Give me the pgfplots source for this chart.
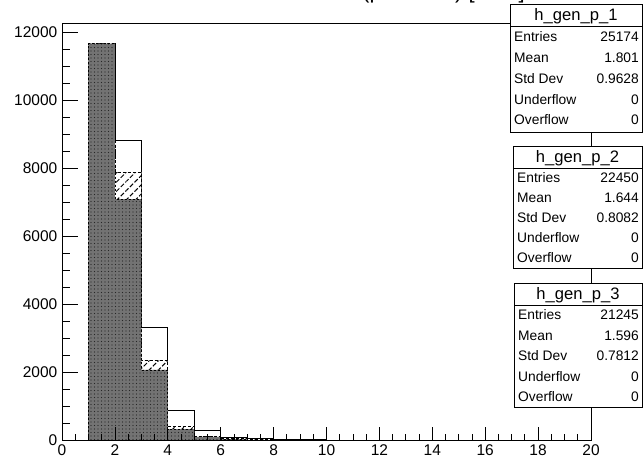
\documentclass[border=0pt]{standalone}
\usepackage{pgfplots}
\pgfplotsset{compat=1.18}
\usepackage{fontspec}
\setmainfont{Liberation Sans}
\usetikzlibrary{patterns.meta}

\newcommand{\hfont}{\fontsize{16.6bp}{19bp}\selectfont}
\newcommand{\sfont}{\fontsize{13.8bp}{16bp}\selectfont}

\begin{document}
\begin{tikzpicture}[x=1bp,y=1bp]
\path[use as bounding box] (0,0) rectangle (643,464);
\begin{axis}[
  at={(62bp,24bp)}, anchor=south west,
  scale only axis, width=529bp, height=417bp,
  xmin=0, xmax=20, ymin=0, ymax=12265,
  axis on top,
  xtick={0,2,...,20}, minor x tick num=3,
  ytick={0,2000,...,12000}, minor y tick num=3,
  tick align=inside, xtick pos=bottom, ytick pos=left,
  xtick style={/pgfplots/major tick length=12.5bp,/pgfplots/minor tick length=6.3bp},
  ytick style={/pgfplots/major tick length=16bp,/pgfplots/minor tick length=8bp},
  every tick/.style={black, line width=0.8bp},
  axis line style={line width=0.8bp},
  /pgf/number format/assume math mode=true,
  /pgf/number format/1000 sep={},
  scaled y ticks=false,
  ticklabel style={font=\fontsize{15.5bp}{18bp}\selectfont},
  xticklabel style={inner sep=4.5bp},
  yticklabel style={inner sep=4.5bp},
]
% h_gen_p_1
\addplot[const plot, fill=white, draw=black, line width=0.8bp]
  coordinates {(1,0) (1,11670) (2,8820) (3,3320) (4,880) (5,295) (6,88) (7,40) (8,20) (9,11) (10,0)};
% h_gen_p_2
\addplot[const plot, fill=white, draw=black, line width=0.8bp, dash pattern=on 3bp off 2bp,
  postaction={pattern={Lines[angle=45,distance=6.5bp,line width=1bp]}}]
  coordinates {(1,0) (1,11670) (2,7880) (3,2343) (4,392) (5,118) (6,40) (7,10) (8,0)};
% h_gen_p_3
\addplot[const plot, fill=black!55, draw=black, line width=0.8bp, dash pattern=on 2bp off 2bp,
  postaction={pattern={Dots[distance=3.5bp,radius=0.7bp]}, pattern color=black!85}]
  coordinates {(1,0) (1,11660) (2,7088) (3,2059) (4,320) (5,95) (6,25) (7,0)};
\end{axis}

% title (mostly outside the page, as in the reference)
\node[anchor=base west, inner sep=0, font=\fontsize{22bp}{26bp}\selectfont] at (362,465.5) {(p in GeV) [GeV]};

% stats box 1
\draw[line width=0.8bp, fill=white] (510,460) rectangle (642,332);
\draw[line width=0.8bp] (510,438) -- (642,438);
\node[anchor=base, inner sep=0, font=\hfont] at (576,443) {h\_gen\_p\_1};
\begin{scope}[every node/.style={inner sep=0, font=\sfont}]
\node[anchor=base west] at (514,422) {Entries};   \node[anchor=base east] at (639,422) {25174};
\node[anchor=base west] at (514,401) {Mean};      \node[anchor=base east] at (639,401) {1.801};
\node[anchor=base west] at (514,380) {Std Dev};   \node[anchor=base east] at (639,380) {0.9628};
\node[anchor=base west] at (514,359.5) {Underflow}; \node[anchor=base east] at (639,359.5) {0};
\node[anchor=base west] at (514,339) {Overflow};  \node[anchor=base east] at (639,339) {0};
\end{scope}

% stats box 2
\draw[line width=0.8bp, fill=white] (513,318) rectangle (642,196);
\draw[line width=0.8bp] (513,296) -- (642,296);
\node[anchor=base, inner sep=0, font=\hfont] at (577.5,301) {h\_gen\_p\_2};
\begin{scope}[every node/.style={inner sep=0, font=\sfont}]
\node[anchor=base west] at (517,281) {Entries};   \node[anchor=base east] at (639,281) {22450};
\node[anchor=base west] at (517,261) {Mean};      \node[anchor=base east] at (639,261) {1.644};
\node[anchor=base west] at (517,241) {Std Dev};   \node[anchor=base east] at (639,241) {0.8082};
\node[anchor=base west] at (517,221) {Underflow}; \node[anchor=base east] at (639,221) {0};
\node[anchor=base west] at (517,201) {Overflow};  \node[anchor=base east] at (639,201) {0};
\end{scope}

% stats box 3
\draw[line width=0.8bp, fill=white] (514,181) rectangle (642,57);
\draw[line width=0.8bp] (514,159) -- (642,159);
\node[anchor=base, inner sep=0, font=\hfont] at (578,164) {h\_gen\_p\_3};
\begin{scope}[every node/.style={inner sep=0, font=\sfont}]
\node[anchor=base west] at (518,144) {Entries};   \node[anchor=base east] at (639,144) {21245};
\node[anchor=base west] at (518,123.5) {Mean};    \node[anchor=base east] at (639,123.5) {1.596};
\node[anchor=base west] at (518,103) {Std Dev};   \node[anchor=base east] at (639,103) {0.7812};
\node[anchor=base west] at (518,82.5) {Underflow}; \node[anchor=base east] at (639,82.5) {0};
\node[anchor=base west] at (518,62) {Overflow};   \node[anchor=base east] at (639,62) {0};
\end{scope}
\end{tikzpicture}
\end{document}
